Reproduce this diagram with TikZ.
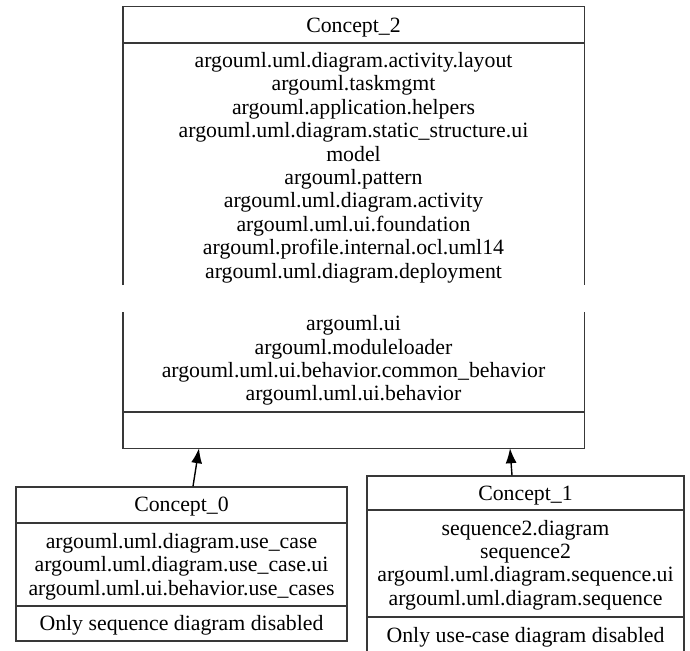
\documentclass[tikz,border=0pt]{standalone}
\usepackage{fontspec}
\setmainfont{Liberation Serif}
\usetikzlibrary{arrows.meta}
\begin{document}
\begin{tikzpicture}[x=1pt,y=-1pt,
  boxshape/.style={rectangle, inner sep=0pt, draw=none},
  boxline/.style={draw=black!78, line width=1.4pt},
  txt/.style={font=\fontsize{21.8}{23.4}\selectfont, align=center, inner sep=0pt, text=black},
  arr/.style={draw=black, line width=1.4pt, -{Latex[length=15pt,width=11pt]}}]
\useasboundingbox (0,0) rectangle (690,650);
\clip (0,0) rectangle (690,650);
% Concept_2
\node[boxshape, minimum width=461pt, minimum height=441pt] (c2) at (353.5,227.5) {};
\draw[boxline] (c2.west |- 0,285) -- (c2.north west) -- (c2.north east) -- (c2.east |- 0,285);
\draw[boxline] (c2.west |- 0,312) -- (c2.south west) -- (c2.south east) -- (c2.east |- 0,312);
\draw[boxline] (c2.west |- 0,43) -- (c2.east |- 0,43);
\draw[boxline] (c2.west |- 0,412) -- (c2.east |- 0,412);
\node[txt] (c2h) at (353.5,27.5) {Concept\_2};
\node[txt] (c2b) at (353.5,167.5) {argouml.uml.diagram.activity.layout\\argouml.taskmgmt\\argouml.application.helpers\\argouml.uml.diagram.static\_structure.ui\\model\\argouml.pattern\\argouml.uml.diagram.activity\\argouml.uml.ui.foundation\\argouml.profile.internal.ocl.uml14\\argouml.uml.diagram.deployment};
\node[txt] (c2c) at (353.5,360.5) {argouml.ui\\argouml.moduleloader\\argouml.uml.ui.behavior.common\_behavior\\argouml.uml.ui.behavior};
% Concept_0
\node[boxshape, draw=black!78, line width=1.4pt, minimum width=331pt, minimum height=154pt] (c0) at (181.5,564) {};
\draw[boxline] (c0.west |- 0,523) -- (c0.east |- 0,523);
\draw[boxline] (c0.west |- 0,606) -- (c0.east |- 0,606);
\node[txt] (c0h) at (181.5,507) {Concept\_0};
\node[txt] (c0b) at (181.5,566.5) {argouml.uml.diagram.use\_case\\argouml.uml.diagram.use\_case.ui\\argouml.uml.ui.behavior.use\_cases};
\node[txt] (c0f) at (181.5,625.5) {Only sequence diagram disabled};
% Concept_1
\node[boxshape, draw=black!78, line width=1.4pt, minimum width=317pt, minimum height=184pt] (c1) at (525.5,568) {};
\draw[boxline] (c1.west |- 0,510) -- (c1.east |- 0,510);
\draw[boxline] (c1.west |- 0,617) -- (c1.east |- 0,617);
\node[txt] (c1h) at (525.5,495.5) {Concept\_1};
\node[txt] (c1b) at (525.5,565) {sequence2.diagram\\sequence2\\argouml.uml.diagram.sequence.ui\\argouml.uml.diagram.sequence};
\node[txt] (c1f) at (525.5,637.5) {Only use-case diagram disabled};
% arrows
\draw[arr] ([xshift=11.5pt]c0.north) -- ([xshift=-154.5pt]c2.south);
\draw[arr] ([xshift=-13.5pt]c1.north) -- ([xshift=156.5pt]c2.south);
\end{tikzpicture}
\end{document}
